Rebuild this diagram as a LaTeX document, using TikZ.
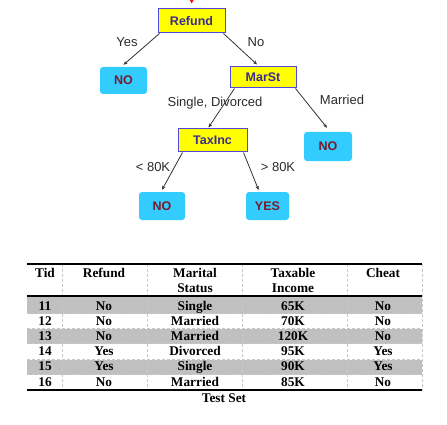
\documentclass[tikz,border=0pt]{standalone}
\usepackage{fontspec}
\setmainfont{Liberation Serif}
\setsansfont{Liberation Sans}
\usetikzlibrary{calc,arrows.meta}
\definecolor{ybox}{HTML}{FFFF00}
\definecolor{yborder}{HTML}{5048D8}
\definecolor{ytext}{HTML}{3B2C8C}
\definecolor{cbox}{HTML}{33CCFF}
\definecolor{ctext}{HTML}{7A1A2A}
\definecolor{lbl}{HTML}{2A2A2A}
\definecolor{band}{HTML}{C0C0C0}
\definecolor{sep}{HTML}{C8C8C8}
\begin{document}
\begin{tikzpicture}[x=1pt,y=-1pt,
  attr/.style={draw=yborder, line width=1pt, fill=ybox, text=ytext, inner sep=0pt,
    font=\sffamily\bfseries\fontsize{12.5}{14}\selectfont},
  leaf/.style={fill=cbox, rounded corners=3pt, text=ctext, inner sep=0pt,
    font=\sffamily\bfseries\fontsize{12.5}{14}\selectfont},
  lab/.style={text=lbl, inner sep=0pt, font=\sffamily\fontsize{13}{15}\selectfont},
  treeedge/.style={draw=black!80, line width=0.8pt, -{Stealth[length=4pt,width=3.5pt]}},
  cell/.style={anchor=base, inner sep=0pt, font=\bfseries\fontsize{13.3}{15}\selectfont},
  vsep/.style={draw=sep, line width=0.8pt, dash pattern=on 3pt off 2pt},
  rule/.style={draw=black, line width=1.2pt},
]
\useasboundingbox (0,0) rectangle (447,425);

% ---------------- tree ----------------
\node[attr, minimum width=67pt, minimum height=24pt] (Refund) at (191.5,21) {Refund};
\node[leaf, minimum width=47pt, minimum height=27pt] (no1) at (123.5,80.5) {NO};
\node[attr, minimum width=66pt, minimum height=21pt] (MarSt) at (263,77.5) {MarSt};
\node[attr, minimum width=69pt, minimum height=23pt] (TaxInc) at (212.5,140.5) {TaxInc};
\node[leaf, minimum width=48pt, minimum height=29pt] (no2) at (328,146.5) {NO};
\node[leaf, minimum width=46pt, minimum height=28pt] (no3) at (162,206) {NO};
\node[leaf, minimum width=43pt, minimum height=28pt] (yes) at (267.5,206) {YES};

\coordinate (rtop) at (192,-10);
\draw[red, line width=1pt, -{Triangle[length=5pt,width=5pt]}, shorten >=5pt] (rtop) -- (Refund.north);

\draw[treeedge] ($(Refund.south west)+(2,0)$) -- ($(no1.north)+(0,-2)$);
\draw[treeedge] ($(Refund.south east)+(-2,0)$) -- ($(MarSt.north)+(-6,-2)$);
\draw[treeedge] ($(MarSt.south west)+(5,0)$) -- ($(TaxInc.north)+(-4,-1)$);
\draw[treeedge] ($(MarSt.south east)+(-1,0)$) -- ($(no2.north)+(-1,-4)$);
\draw[treeedge] ($(TaxInc.south west)+(5,0)$) -- ($(no3.north)+(0,-2)$);
\draw[treeedge] ($(TaxInc.south east)+(-4,0)$) -- ($(yes.north)+(-9,-2)$);

\node[lab] (lyes) at (127,42) {Yes};
\node[lab] (lno) at (256,42) {No};
\node[lab] (lsd) at (215,103) {Single, Divorced};
\node[lab] (lmar) at (342,100) {Married};
\node[lab] (llt) at (153,167) {< 80K};
\node[lab] (lgt) at (278,167) {> 80K};

% ---------------- table ----------------
\fill[band] (27,296.5) rectangle (422,313.5);
\fill[band] (27,328.5) rectangle (422,343.5);
\fill[band] (27,359.5) rectangle (422,374.5);

\foreach \yy in {313.5,328.5,343.5,359.5,374.5}
  \draw[vsep] (27,\yy) -- (422,\yy);
\foreach \xx in {62,147,242,347,422}
  \draw[vsep] (\xx,264) -- (\xx,390);

\draw[rule] (27,264) -- (422,264);
\draw[draw=black, line width=1.6pt] (27,296) -- (422,296);
\draw[rule] (27,390) -- (422,390);

\node[cell] (hTid) at (45,277.5) {Tid};
\node[cell] (hRef) at (104,277.5) {Refund};
\node[cell] (hMar) at (195,277.5) {Marital};
\node[cell] (hSta) at (195,292.5) {Status};
\node[cell] (hTax) at (293,277.5) {Taxable};
\node[cell] (hInc) at (293,292.5) {Income};
\node[cell] (hChe) at (383,277.5) {Cheat};

\foreach \t/\r/\m/\i/\c [count=\k from 0] in
  {11/No/Single/65K/No, 12/No/Married/70K/No, 13/No/Married/120K/No,
   14/Yes/Divorced/95K/Yes, 15/Yes/Single/90K/Yes, 16/No/Married/85K/No}{
  \pgfmathsetmacro\yb{310+15.2*\k}
  \node[cell] (tid\t) at (45,\yb) {\t};
  \node[cell] (ref\t) at (104,\yb) {\r};
  \node[cell] (mar\t) at (195,\yb) {\m};
  \node[cell] (inc\t) at (293,\yb) {\i};
  \node[cell] (che\t) at (383,\yb) {\c};
}

\node[cell] (caption) at (224,402) {Test Set};
\end{tikzpicture}
\end{document}
